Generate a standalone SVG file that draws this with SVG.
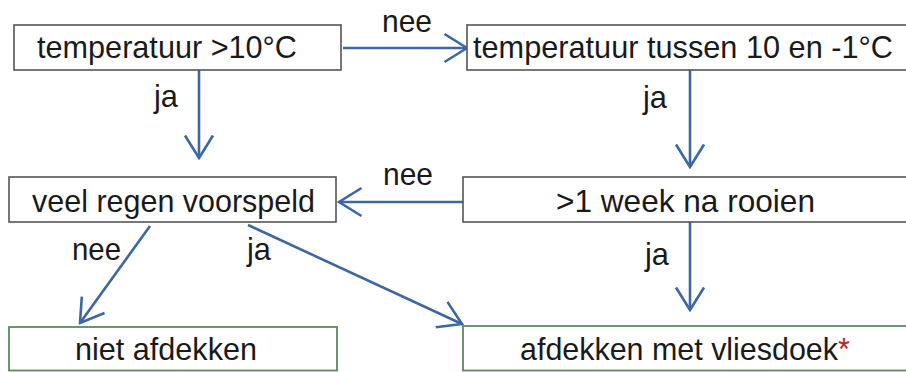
<svg xmlns="http://www.w3.org/2000/svg" width="906" height="372" viewBox="0 0 906 372">
<defs>
<marker id="ah" markerUnits="userSpaceOnUse" viewBox="0 0 26 32" refX="24" refY="16" markerWidth="26" markerHeight="32" orient="auto">
<path d="M1.5,2 L24,16 L1.5,30" fill="none" stroke="#3d67a3" stroke-width="2.6"/>
</marker>
<style>
text{font-family:"Liberation Sans",Arial,sans-serif;font-size:30.5px;fill:#1a1a1a}
.box{fill:#fff;stroke:#555;stroke-width:1.6}
.gbox{fill:#fff;stroke:#5b8a5b;stroke-width:1.8}
.conn{stroke:#3d67a3;stroke-width:2.6;fill:none;marker-end:url(#ah)}
.star{fill:#c0242a}
</style>
</defs>
<rect width="906" height="372" fill="#fff"/>
<g id="connectors">
<line class="conn" x1="343" y1="48" x2="467" y2="48"/>
<line class="conn" x1="199" y1="70" x2="199" y2="158"/>
<line class="conn" x1="690" y1="70" x2="690" y2="167"/>
<line class="conn" x1="463" y1="202" x2="339" y2="202"/>
<line class="conn" x1="150" y1="226" x2="80" y2="323"/>
<line class="conn" x1="248" y1="225" x2="462" y2="324"/>
<line class="conn" x1="690" y1="222" x2="690" y2="310"/>
<text x="382" y="32" textLength="50" lengthAdjust="spacingAndGlyphs">nee</text>
<text x="154" y="107" textLength="24" lengthAdjust="spacingAndGlyphs">ja</text>
<text x="643" y="108" textLength="24" lengthAdjust="spacingAndGlyphs">ja</text>
<text x="383" y="185" textLength="50" lengthAdjust="spacingAndGlyphs">nee</text>
<text x="72" y="260" textLength="49" lengthAdjust="spacingAndGlyphs">nee</text>
<text x="247" y="260" textLength="24" lengthAdjust="spacingAndGlyphs">ja</text>
<text x="645" y="265" textLength="24" lengthAdjust="spacingAndGlyphs">ja</text>
</g>
<g id="n1">
<rect class="box" x="14" y="25" width="327" height="45"/>
<text x="37" y="58" textLength="260" lengthAdjust="spacingAndGlyphs">temperatuur &gt;10°C</text>
</g>
<g id="n2">
<rect class="box" x="467" y="25" width="442" height="45"/>
<text x="473" y="58" textLength="420" lengthAdjust="spacingAndGlyphs">temperatuur tussen 10 en -1°C</text>
</g>
<g id="n3">
<rect class="box" x="9" y="177" width="327" height="45"/>
<text x="32" y="212" textLength="283" lengthAdjust="spacingAndGlyphs">veel regen voorspeld</text>
</g>
<g id="n4">
<rect class="box" x="463" y="177" width="447" height="45"/>
<text x="556" y="212" textLength="259" lengthAdjust="spacingAndGlyphs">&gt;1 week na rooien</text>
</g>
<g id="n5">
<rect class="gbox" x="9" y="327" width="328" height="43.5"/>
<text x="75" y="360" textLength="182" lengthAdjust="spacingAndGlyphs">niet afdekken</text>
</g>
<g id="n6">
<rect class="gbox" x="463" y="326" width="447" height="44.5"/>
<text x="520" y="360" textLength="318" lengthAdjust="spacingAndGlyphs">afdekken met vliesdoek</text>
<text class="star" x="838" y="360">*</text>
</g>
</svg>
